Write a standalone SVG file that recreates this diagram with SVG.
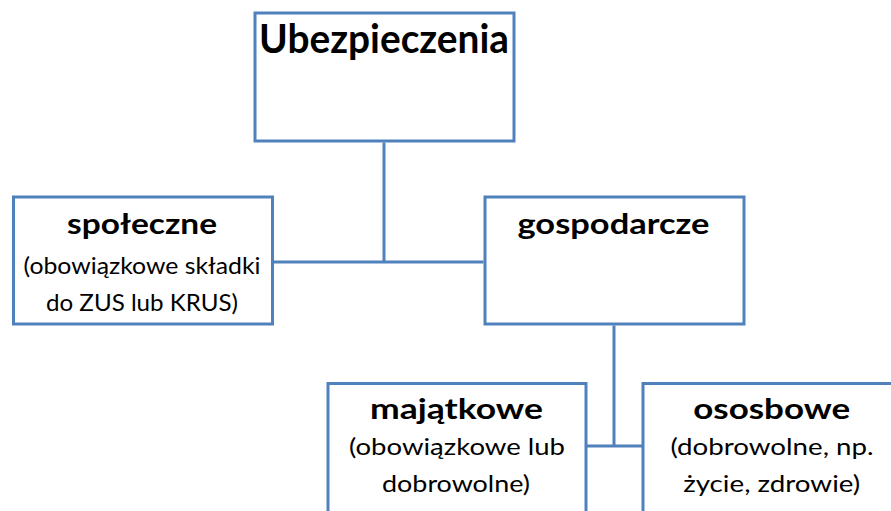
<svg xmlns="http://www.w3.org/2000/svg" width="891" height="511" viewBox="0 0 891 511">
<style>
.box{fill:#fff;stroke:#4F81BD;stroke-width:3}
.con{fill:none;stroke:#4F81BD;stroke-width:3}
text{font-family:Lato,"Open Sans","Liberation Sans",sans-serif;fill:#000;text-anchor:middle}
.t1{font-size:41px;font-weight:bold}
.t2{font-size:28px;font-weight:bold}
.t3{font-size:23px}
</style>
<rect width="891" height="511" fill="#fff"/>
<g id="connectors">
<path class="con" d="M384 142.5V262M274 262H483.5"/>
<path class="con" d="M614 325.5V446M587 446H642"/>
</g>
<g id="ubezpieczenia">
<rect class="box" x="255" y="13" width="259" height="128"/>
<text class="t1" x="384" y="53" textLength="250" lengthAdjust="spacingAndGlyphs">Ubezpieczenia</text>
</g>
<g id="spoleczne">
<rect class="box" x="13.5" y="197" width="259" height="127"/>
<text class="t2" x="142" y="234" textLength="150" lengthAdjust="spacingAndGlyphs">społeczne</text>
<text class="t3" x="142" y="274" textLength="237" lengthAdjust="spacingAndGlyphs">(obowiązkowe składki</text>
<text class="t3" x="142" y="311" textLength="192" lengthAdjust="spacingAndGlyphs">do ZUS lub KRUS)</text>
</g>
<g id="gospodarcze">
<rect class="box" x="485" y="197" width="259" height="127"/>
<text class="t2" x="613.5" y="233.5" textLength="192" lengthAdjust="spacingAndGlyphs">gospodarcze</text>
</g>
<g id="majatkowe">
<rect class="box" x="328" y="383.5" width="258" height="130"/>
<text class="t2" x="456.5" y="418.5" textLength="173" lengthAdjust="spacingAndGlyphs">majątkowe</text>
<text class="t3" x="457" y="455" textLength="216" lengthAdjust="spacingAndGlyphs">(obowiązkowe lub</text>
<text class="t3" x="456" y="492" textLength="148" lengthAdjust="spacingAndGlyphs">dobrowolne)</text>
</g>
<g id="ososbowe">
<rect class="box" x="643" y="383.5" width="258" height="130"/>
<text class="t2" x="771.7" y="418.5" textLength="157" lengthAdjust="spacingAndGlyphs">ososbowe</text>
<text class="t3" x="772" y="455" textLength="203" lengthAdjust="spacingAndGlyphs">(dobrowolne, np.</text>
<text class="t3" x="771.7" y="492" textLength="177" lengthAdjust="spacingAndGlyphs">życie, zdrowie)</text>
</g>
</svg>
